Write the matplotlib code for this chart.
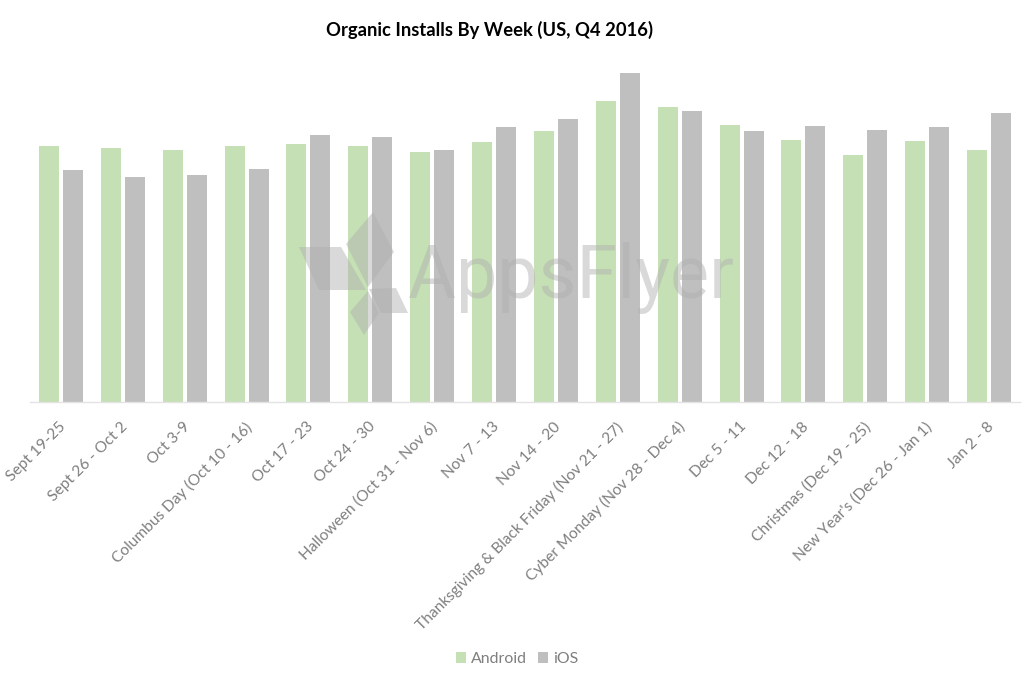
import numpy as np
import matplotlib
matplotlib.use('Agg')
import matplotlib.pyplot as plt
from matplotlib.patches import Polygon
from matplotlib.transforms import Affine2D, ScaledTranslation

weeks = ['Sept 19-25', 'Sept 26 - Oct 2', 'Oct 3-9', 'Columbus Day (Oct 10 - 16)', 'Oct 17 - 23',
         'Oct 24 - 30', 'Halloween (Oct 31 - Nov 6)', 'Nov 7 - 13', 'Nov 14 - 20',
         'Thanksgiving & Black Friday (Nov 21 - 27)', 'Cyber Monday (Nov 28 - Dec 4)', 'Dec 5 - 11',
         'Dec 12 - 18', 'Christmas (Dec 19 - 25)', "New Year's (Dec 26 - Jan 1)", 'Jan 2 - 8']
android = [256, 253.5, 252, 256, 258, 256, 249.5, 259.5, 271, 301, 294.5, 277, 262, 246.5, 260.5, 252]
ios = [231.5, 224.5, 227, 233, 267, 264.5, 252, 274.5, 282.5, 328.5, 291, 271, 275.5, 272, 274.5, 288.5]

W, H = 1024, 673
plt.rcParams['font.family'] = ['Lato', 'DejaVu Sans']

fig = plt.figure(figsize=(W / 100, H / 100), dpi=100)
# axes placed in pixels: baseline at y=401.5, 1 data unit = 1 px
ax = fig.add_axes([30 / W, (H - 401.5) / H, 990 / W, 341.5 / H])
x = np.arange(len(weeks))
bar_w = 20 / 61.87
offset = 12 / 61.87
ax.bar(x - offset, android, bar_w, color='#c5e0b4', label='Android')
ax.bar(x + offset, ios, bar_w, color='#bfbfbf', label='iOS')
ax.set_xlim(-0.5, len(weeks) - 0.5)
ax.set_ylim(0, 341.5)
ax.set_yticks([])
for s in ['top', 'left', 'right']:
    ax.spines[s].set_visible(False)
ax.spines['bottom'].set_color('#e3e3e3')
ax.spines['bottom'].set_linewidth(1)
ax.set_xticks(x)
ax.set_xticklabels(weeks, rotation=45, ha='right', va='top', rotation_mode='anchor',
                   fontsize=11.2, color='#7f7f7f')
ax.tick_params(axis='x', length=0, pad=13)
# nudge labels a few pixels left of the ticks
shift = ScaledTranslation(-2 / 100, 0, fig.dpi_scale_trans)
for lab in ax.get_xticklabels():
    lab.set_transform(lab.get_transform() + shift)

fig.text(489.5 / W, 1 - 30 / H, 'Organic Installs By Week (US, Q4 2016)', ha='center', va='center',
         fontsize=13.2, fontweight='bold', color='black')

leg = fig.legend(loc='center', bbox_to_anchor=(517 / W, 1 - 659 / H), ncol=2, frameon=False,
                 fontsize=11.4, handlelength=0.68, handleheight=0.68, handletextpad=0.3, columnspacing=0.65,
                 labelcolor='#7f7f7f')

# watermark, drawn in pixel coordinates from the top-left corner
to_px = Affine2D().scale(1, -1).translate(0, H)
logo = [
    [(299, 247), (341, 247), (366, 290), (319, 290)],
    [(373, 212), (394, 252), (368, 287), (346, 244)],
    [(369, 289), (396, 288), (408, 313), (381, 313)],
    [(368, 291), (379, 313), (364, 335), (350, 312)],
]
for pts in logo:
    fig.add_artist(Polygon(pts, closed=True, transform=to_px, facecolor='#b0b0b0', edgecolor='none',
                           alpha=0.47, zorder=5))
fig.text(408 / W, 1 - 298 / H, 'AppsFlyer', ha='left', va='baseline', fontsize=53, family='Roboto',
         fontweight='normal', color='#b0b0b0', alpha=0.47, zorder=5)

fig.savefig('out.png', dpi=100)
